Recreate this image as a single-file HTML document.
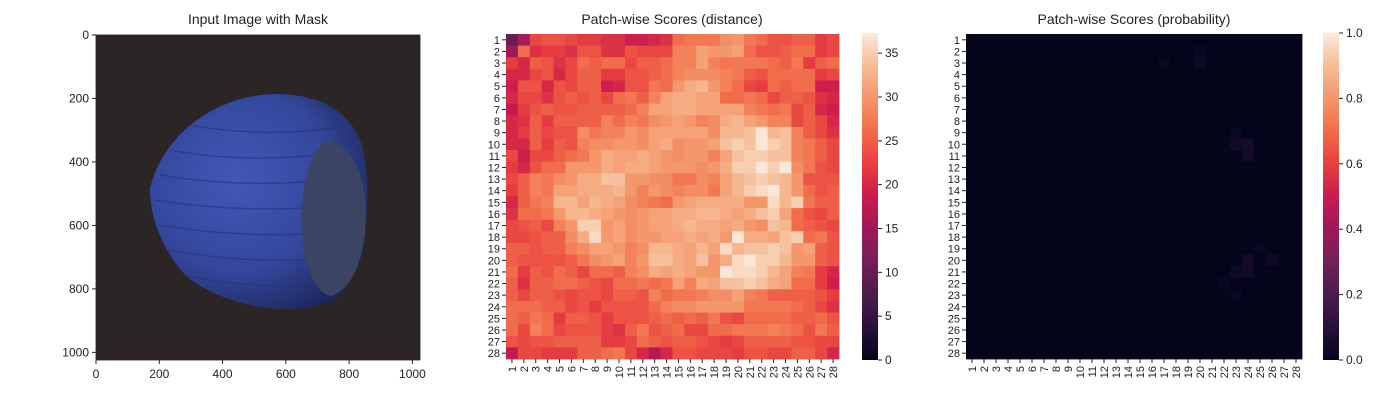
<!DOCTYPE html>
<html><head><meta charset="utf-8"><style>
body{margin:0;background:#fff;font-family:"Liberation Sans",sans-serif}
svg text{font-family:"Liberation Sans",sans-serif;fill:#222}
</style></head><body>
<svg id="s" width="1400" height="400" xmlns="http://www.w3.org/2000/svg">
<defs>
<radialGradient id="nut" cx="0.4" cy="0.4" r="0.7">
<stop offset="0" stop-color="#4258b8"/><stop offset="0.6" stop-color="#34479c"/><stop offset="1" stop-color="#1c275a"/>
</radialGradient>
<linearGradient id="cb" x1="0" y1="1" x2="0" y2="0">
<stop offset="0" stop-color="#03051a"/><stop offset="0.1" stop-color="#28113a"/><stop offset="0.2" stop-color="#4c1d4b"/><stop offset="0.3" stop-color="#731f58"/><stop offset="0.4" stop-color="#9d1959"/><stop offset="0.5" stop-color="#cb1b4f"/><stop offset="0.6" stop-color="#e83f3f"/><stop offset="0.7" stop-color="#f16d4a"/><stop offset="0.8" stop-color="#f4966a"/><stop offset="0.9" stop-color="#f6bc96"/><stop offset="1" stop-color="#faebdd"/>
</linearGradient>
</defs>
<g>
<text x="258" y="24" text-anchor="middle" font-size="14">Input Image with Mask</text>
<rect x="96" y="35" width="324" height="325" fill="#2b2526"/>
<g>
<path d="M150,188 C165,130 220,95 275,94 C325,94 352,115 362,145 C372,185 370,265 335,300 C290,320 220,305 185,275 C163,250 150,220 150,188 Z" fill="url(#nut)"/>
<g stroke="#25337a" stroke-width="1.5" fill="none" opacity="0.6">
<path d="M190,125 Q260,138 335,128"/><path d="M170,150 Q250,165 340,152"/><path d="M160,175 Q250,190 345,178"/><path d="M155,200 Q250,215 345,205"/><path d="M158,225 Q250,240 340,232"/><path d="M168,250 Q250,265 330,258"/><path d="M185,275 Q250,290 320,284"/>
</g>
<path d="M330,140 C350,145 366,175 366,215 C366,260 350,292 330,296 C310,290 302,255 302,218 C302,180 312,145 330,140 Z" fill="#3b4462"/>
</g>
<rect x="96" y="35" width="324" height="325" fill="none" stroke="#222" stroke-width="0.8"/>
<g id="imgTicks" font-size="12"></g>
</g>
<g id="p2">
<text x="672" y="24" text-anchor="middle" font-size="14">Patch-wise Scores (distance)</text>
</g>
<g id="p3">
<text x="1134" y="24" text-anchor="middle" font-size="14">Patch-wise Scores (probability)</text>
</g>
</svg>
<script>
const dist = [
[10,16,23,24,24,23,22,22,21,21,19,19,20,21,26,27,27,27,29,30,27,26,24,24,25,25,22,23],
[15,26,21,22,22,21,24,24,21,21,24,23,23,23,28,28,31,30,30,31,26,24,24,25,26,26,22,23],
[22,20,25,24,21,23,26,25,26,26,23,25,25,26,28,28,31,28,27,27,27,27,26,25,27,22,25,26],
[20,20,23,24,20,23,25,25,22,22,24,24,25,26,28,29,29,29,28,27,25,24,26,26,26,26,22,23],
[19,24,24,20,24,23,25,25,19,20,24,24,27,26,30,32,33,30,28,26,23,22,26,25,26,26,19,19],
[20,23,23,21,24,25,24,25,23,26,27,25,28,31,32,32,31,31,26,26,27,26,23,25,25,24,21,20],
[18,22,24,25,24,24,25,25,25,25,26,28,31,31,32,32,31,31,31,31,28,27,26,27,23,25,20,19],
[20,21,25,22,25,25,25,25,28,26,28,27,29,30,31,30,28,29,32,33,31,30,28,28,23,25,23,20],
[20,22,25,23,24,24,29,27,28,28,30,29,31,31,31,31,31,29,33,33,34,37,33,34,28,25,23,21],
[20,20,25,22,25,24,28,29,29,30,30,29,31,32,29,30,30,31,34,35,34,37,35,34,28,27,25,23],
[23,19,23,23,25,26,27,30,32,31,31,32,31,30,29,30,30,28,31,34,35,35,34,34,28,27,25,23],
[22,20,24,26,26,30,30,30,32,31,32,32,31,30,30,30,29,30,32,35,35,37,35,37,29,27,24,23],
[23,25,28,27,29,30,32,32,34,34,30,30,29,29,27,27,29,28,31,33,34,35,34,33,30,24,24,24],
[22,25,28,27,31,31,32,32,32,33,30,28,30,29,28,29,29,27,31,33,35,36,37,33,30,26,24,25],
[20,25,27,28,33,33,31,33,32,31,29,28,27,26,30,31,32,32,32,32,30,30,36,33,35,27,25,25],
[21,26,26,27,30,33,33,32,31,30,29,30,31,31,32,32,33,33,32,31,32,34,35,31,26,24,23,25],
[23,24,25,23,28,30,35,35,30,31,29,30,31,31,32,33,32,32,31,32,30,29,34,33,26,25,24,23],
[23,23,24,25,25,29,32,36,30,31,29,30,30,31,31,32,31,32,30,37,32,32,31,34,35,26,27,24],
[25,25,24,25,25,28,29,31,31,30,28,29,33,33,32,31,33,31,36,33,34,34,35,34,30,31,25,24],
[25,24,24,24,24,25,27,29,30,31,28,30,34,34,32,31,34,30,32,36,37,35,35,33,30,30,25,24],
[26,22,25,24,26,25,23,26,26,25,28,29,32,31,32,31,30,30,37,36,36,35,33,31,28,27,22,20],
[25,21,25,25,26,26,25,24,23,26,26,27,26,27,31,28,32,31,34,34,35,34,32,31,26,26,22,19],
[25,23,25,25,24,23,24,24,23,25,25,24,28,26,27,27,28,29,29,31,28,27,25,25,25,25,24,22],
[26,26,26,25,25,23,24,22,24,24,24,24,26,28,29,29,30,30,30,30,27,27,27,27,26,25,23,21],
[26,25,27,26,22,25,25,24,22,24,24,24,25,26,25,26,25,27,24,23,26,26,26,26,25,25,26,24],
[26,23,28,26,23,24,24,24,22,21,25,27,24,25,26,23,23,26,26,27,27,27,28,27,26,24,27,25],
[24,23,24,24,25,25,25,25,22,22,23,26,25,24,25,25,24,23,22,23,25,25,25,25,24,24,23,23],
[18,23,23,22,22,22,25,25,26,27,23,20,17,20,24,24,23,23,23,22,24,24,23,23,25,25,23,20]];
const probHot = [[1,19,0.02],[2,16,0.02],[2,19,0.03],[8,22,0.02],[9,22,0.04],[9,23,0.05],[10,23,0.04],[18,24,0.02],[19,23,0.04],[19,25,0.03],[20,22,0.03],[20,23,0.04],[21,21,0.02],[22,22,0.02]];
const imgTicksX = [0,200,400,600,800,1000];
const imgTicksY = [0,200,400,600,800,1000];
const distTicks = [0,5,10,15,20,25,30,35];
const probTicks = [0,0.2,0.4,0.6,0.8,1.0];
const N = 28;
const prob = [];
for (let r=0;r<N;r++){ prob.push(new Array(N).fill(0.003)); }
probHot.forEach(h=>{ prob[h[0]][h[1]] = h[2]; });

const stops=[[3,5,26],[40,17,58],[76,29,75],[115,31,88],[157,25,89],[203,27,79],[232,63,63],[241,109,74],[244,150,106],[246,188,150],[250,235,221]];
function rocket(t){t=Math.max(0,Math.min(1,t));const p=t*10,i=Math.min(9,Math.floor(p)),f=p-i;const a=stops[i],b=stops[i+1];return `rgb(${Math.round(a[0]+(b[0]-a[0])*f)},${Math.round(a[1]+(b[1]-a[1])*f)},${Math.round(a[2]+(b[2]-a[2])*f)})`;}
const NS='http://www.w3.org/2000/svg';
function mk(tag,attrs,parent,txt){const e=document.createElementNS(NS,tag);for(const k in attrs)e.setAttribute(k,attrs[k]);if(txt!==undefined)e.textContent=txt;parent.appendChild(e);return e;}

const it=document.getElementById('imgTicks');
const ix=v=>96+v*324/1024, iy=v=>35+v*325/1024;
imgTicksX.forEach(v=>{mk('line',{x1:ix(v),x2:ix(v),y1:360,y2:364,stroke:'#222'},it);const t=mk('text',{x:ix(v),y:378,'text-anchor':'middle'},it,v);

});
imgTicksY.forEach(v=>{mk('line',{x1:92,x2:96,y1:iy(v),y2:iy(v),stroke:'#222'},it);const t=mk('text',{x:89,y:iy(v)+4,'text-anchor':'end'},it,v);

});

function heatmap(gid,data,x0,y0,w,h,vmin,vmax,cbx,ticks,fmt){
  const g=document.getElementById(gid);
  const cw=w/N,ch=h/N;
  const sx=c=>x0+c*cw, sy=r=>y0+r*ch;
  const cells=mk('g',{},g);
  
  
  for(let r=0;r<N;r++)for(let c=0;c<N;c++){
    const e=mk('rect',{x:sx(c),y:sy(r),width:cw+0.4,height:ch+0.4,fill:rocket((data[r][c]-vmin)/(vmax-vmin))},cells);
    
    
  }
  for(let i=0;i<N;i++){
    const y=sy(i)+ch/2;
    mk('line',{x1:x0-4,x2:x0,y1:y,y2:y,stroke:'#222'},g);
    const t=mk('text',{x:x0-6,y:y+4,'text-anchor':'end','font-size':11},g,i+1);
    
    
    const x=sx(i)+cw/2;
    mk('line',{x1:x,x2:x,y1:y0+h,y2:y0+h+4,stroke:'#222'},g);
    const t2=mk('text',{x:x+4,y:y0+h+7,'text-anchor':'end','font-size':11,transform:`rotate(-90 ${x+4} ${y0+h+7})`},g,i+1);
    
    
  }
  const cby0=y0-1,cbh=h+2;
  const cb=mk('rect',{x:cbx,y:cby0,width:16,height:cbh,fill:'url(#cb)'},g);
  
  
  ticks.forEach(v=>{const y=cby0+cbh-(v-vmin)/(vmax-vmin)*cbh;
    mk('line',{x1:cbx+16,x2:cbx+20,y1:y,y2:y,stroke:'#222'},g);
    const t=mk('text',{x:cbx+23,y:y+4,'font-size':12},g,fmt(v));
    
    });
}
heatmap('p2',dist,506,34,333,325,0,37.3,862,distTicks,v=>v);
heatmap('p3',prob,966,34,336,325,0,1,1323,probTicks,v=>v.toFixed(1));
</script>
</body></html>
